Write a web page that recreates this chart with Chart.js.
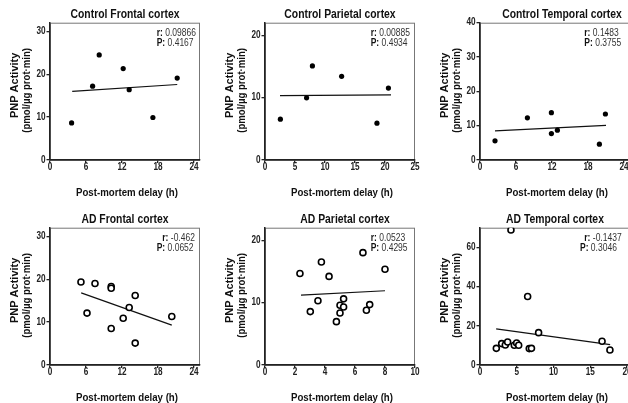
<!DOCTYPE html>
<html><head><meta charset="utf-8">
<script src="https://cdn.jsdelivr.net/npm/chart.js@4/dist/chart.umd.min.js"></script>
<style>
html,body{margin:0;padding:0;background:#fff;overflow:hidden;width:628px;height:403px;position:relative}
canvas{position:absolute}
</style></head><body>
<canvas id="c0"></canvas><canvas id="c1"></canvas><canvas id="c2"></canvas>
<canvas id="c3"></canvas><canvas id="c4"></canvas><canvas id="c5"></canvas>
<script>
// ---- data ----
const titles = ['Control Frontal cortex','Control Parietal cortex','Control Temporal cortex',
                'AD Frontal cortex','AD Parietal cortex','AD Temporal cortex'];
const rValues = ['0.09866','0.00885','0.1483','-0.462','0.0523','-0.1437'];
const pValues = ['0.4167','0.4934','0.3755','0.0652','0.4295','0.3046'];
const xAxisTitle = 'Post-mortem delay (h)';
const yAxisTitle = ['PNP Activity','(pmol/\u00b5g prot\u00b7min)'];

const ctrlFrontalX = [3.6,7.1,8.2,12.2,13.2,17.15,21.2];
const ctrlFrontalY = [8.65,17.2,24.5,21.3,16.4,9.9,19.1];
const ctrlFrontalFitX = [3.7,21.2];
const ctrlFrontalFitY = [16.0,17.6];

const ctrlParietalX = [2.56,6.93,7.9,12.77,18.66,20.57];
const ctrlParietalY = [6.54,9.97,15.07,13.4,5.9,11.53];
const ctrlParietalFitX = [2.5,21];
const ctrlParietalFitY = [10.3,10.45];

const ctrlTemporalX = [2.5,7.9,11.9,11.9,12.9,19.9,20.9];
const ctrlTemporalY = [5.6,12.3,13.8,7.7,8.7,4.6,13.4];
const ctrlTemporalFitX = [2.5,21];
const ctrlTemporalFitY = [8.5,10.1];

const adFrontalX = [5.16,6.17,7.5,10.2,10.2,10.2,12.2,13.2,14.2,14.2,20.3];
const adFrontalY = [19.35,12.1,19.0,18.3,17.9,8.5,10.9,13.4,16.2,5.1,11.3];
const adFrontalFitX = [5.2,20.3];
const adFrontalFitY = [16.8,9.3];

const adParietalX = [2.33,3.02,3.53,3.76,4.27,4.76,5.0,5.0,5.24,5.24,6.53,6.76,6.98,8.0];
const adParietalY = [14.65,8.56,10.3,16.5,14.2,6.95,8.34,9.57,10.6,9.3,18.0,8.77,9.68,15.35];
const adParietalFitX = [2.4,8.0];
const adParietalFitY = [11.2,11.9];

const adTemporalX = [2.22,2.95,3.44,3.76,4.21,4.67,4.98,5.26,6.48,6.7,7.0,7.97,16.6,17.67];
const adTemporalY = [8.5,10.9,10.2,11.75,68.8,10.05,11.2,10.05,34.9,8.35,8.5,16.5,12.1,7.67];
const adTemporalFitX = [2.2,17.7];
const adTemporalFitY = [18.4,10.4];

const xTicks0 = [0,6,12,18,24];
const xTicks1 = [0,5,10,15,20,25];
const xTicks5 = [0,2,4,6,8,10];
const xTicks6 = [0,5,10,15,20];
const yTicks30 = [0,10,20,30];
const yTicks20 = [0,10,20];
const yTicks40 = [0,10,20,30,40];
const yTicks60 = [0,20,40,60];

// ---- panel layout (positions/styles, not data) ----
const FONT = "'Liberation Sans', Arial, sans-serif";
const panels = [
  {x:ctrlFrontalX,y:ctrlFrontalY,fx:ctrlFrontalFitX,fy:ctrlFrontalFitY,xt:xTicks0,yt:yTicks30,xmax:25,ymax:32,left:0,top:0,open:false,tshift:0,ann:[106.7,106.7]},
  {x:ctrlParietalX,y:ctrlParietalY,fx:ctrlParietalFitX,fy:ctrlParietalFitY,xt:xTicks1,yt:yTicks20,xmax:25,ymax:22,left:215,top:0,open:false,tshift:0,ann:[105.7,105.7]},
  {x:ctrlTemporalX,y:ctrlTemporalY,fx:ctrlTemporalFitX,fy:ctrlTemporalFitY,xt:xTicks0,yt:yTicks40,xmax:25,ymax:40,left:430,top:0,open:false,tshift:7,ann:[104.3,104.3]},
  {x:adFrontalX,y:adFrontalY,fx:adFrontalFitX,fy:adFrontalFitY,xt:xTicks0,yt:yTicks30,xmax:25,ymax:32,left:0,top:205,open:true,tshift:0,ann:[112.3,106.7]},
  {x:adParietalX,y:adParietalY,fx:adParietalFitX,fy:adParietalFitY,xt:xTicks5,yt:yTicks20,xmax:10,ymax:22,left:215,top:205,open:true,tshift:5,ann:[105.7,105.7]},
  {x:adTemporalX,y:adTemporalY,fx:adTemporalFitX,fy:adTemporalFitY,xt:xTicks6,yt:yTicks60,xmax:20.4,ymax:70,left:430,top:205,open:true,tshift:0,ann:[104.3,100]}
];

// draws horizontally-condensed text (reference typeface is narrow)
function txt(ctx, s, x, y, align, font, color, sx, rot){
  ctx.save();
  ctx.translate(x, y);
  if (rot) ctx.rotate(rot);
  ctx.scale(sx, 1);
  ctx.font = font; ctx.fillStyle = color;
  ctx.textAlign = align; ctx.textBaseline = 'middle';
  ctx.fillText(s, 0, 0);
  ctx.restore();
}

const decor = {
  id:'decor',
  beforeDraw(chart, args, o){
    const a = chart.chartArea, ctx = chart.ctx;
    ctx.save();
    ctx.strokeStyle = '#777'; ctx.lineWidth = 1;
    ctx.strokeRect(a.left+0.5, a.top+0.5, a.right-a.left-1, a.bottom-a.top);
    ctx.restore();
  },
  afterDraw(chart, args, o){
    const a = chart.chartArea, ctx = chart.ctx;
    const xs = chart.scales.x, ys = chart.scales.y;
    const cx = (a.left + a.right) / 2, cy = (a.top + a.bottom) / 2;
    // panel title
    txt(ctx, o.title, cx + o.tshift, a.top - 8.5, 'center', 'bold 12.5px ' + FONT, '#111', 0.83);
    // tick labels
    xs.ticks.forEach(t => txt(ctx, String(t.value), xs.getPixelForValue(t.value), a.bottom + 7.5,
      'center', 'bold 10px ' + FONT, '#222', 0.82));
    ys.ticks.forEach(t => txt(ctx, String(t.value), a.left - 4.5, ys.getPixelForValue(t.value),
      'right', 'bold 10px ' + FONT, '#222', 0.82));
    // axis titles
    txt(ctx, xAxisTitle, cx + 2, a.bottom + 33, 'center', 'bold 11.5px ' + FONT, '#111', 0.84);
    txt(ctx, yAxisTitle[0], 15, cy - 6, 'center', 'bold 11px ' + FONT, '#111', 1.0, -Math.PI/2);
    txt(ctx, yAxisTitle[1], 27, cy - 1, 'center', 'bold 11px ' + FONT, '#111', 0.87, -Math.PI/2);
    // r / P annotation
    const lines = [['r:', o.r], ['P:', o.p]];
    lines.forEach((ln, i) => {
      const x = a.left + o.ann[i], y = a.top + 10.3 + i*10.6;
      txt(ctx, ln[0], x, y, 'left', 'bold 10px ' + FONT, '#111', 0.85);
      ctx.save(); ctx.font = 'bold 10px ' + FONT;
      const w = ctx.measureText(ln[0] + ' ').width * 0.85; ctx.restore();
      txt(ctx, ln[1], x + w, y, 'left', '10px ' + FONT, '#333', 0.85);
    });
  }
};

panels.forEach((p, i) => {
  const cv = document.getElementById('c' + i);
  cv.width = 210; cv.height = 205;
  cv.style.left = p.left + 'px'; cv.style.top = p.top + 'px';
  cv.style.width = '210px'; cv.style.height = '205px';
  new Chart(cv, {
    type: 'scatter',
    data: {
      datasets: [
        {data: p.x.map((v, k) => ({x: v, y: p.y[k]})),
         pointRadius: p.open ? 3 : 2.6, pointBorderWidth: p.open ? 1.6 : 0,
         pointBackgroundColor: p.open ? '#fff' : '#000', pointBorderColor: '#000', order: 0},
        {data: p.fx.map((v, k) => ({x: v, y: p.fy[k]})), showLine: true,
         borderColor: '#111', borderWidth: 1.2, pointRadius: 0, order: 1}
      ]
    },
    options: {
      responsive: false, animation: false, devicePixelRatio: 1,
      layout: {padding: {left: 0, top: 22.7, right: 10, bottom: 0}},
      plugins: {legend: {display: false}, tooltip: {enabled: false},
        decor: {title: titles[i], r: rValues[i], p: pValues[i], tshift: p.tshift, ann: p.ann}},
      scales: {
        x: {type: 'linear', min: 0, max: p.xmax,
          afterBuildTicks: s => { s.ticks = p.xt.map(v => ({value: v})); },
          afterFit: s => { s.height = 45; },
          grid: {drawOnChartArea: false, drawTicks: true, tickLength: 3, color: '#222', lineWidth: 1.3},
          border: {display: true, color: '#222', width: 1.5},
          ticks: {display: false},
          title: {display: false}
        },
        y: {type: 'linear', min: 0, max: p.ymax,
          afterBuildTicks: s => { s.ticks = p.yt.map(v => ({value: v})); },
          afterFit: s => { s.width = 50; },
          grid: {drawOnChartArea: false, drawTicks: true, tickLength: 3.5, color: '#222', lineWidth: 1.3},
          border: {display: true, color: '#222', width: 1.5},
          ticks: {display: false},
          title: {display: false}
        }
      }
    },
    plugins: [decor]
  });
});
</script>
</body></html>
